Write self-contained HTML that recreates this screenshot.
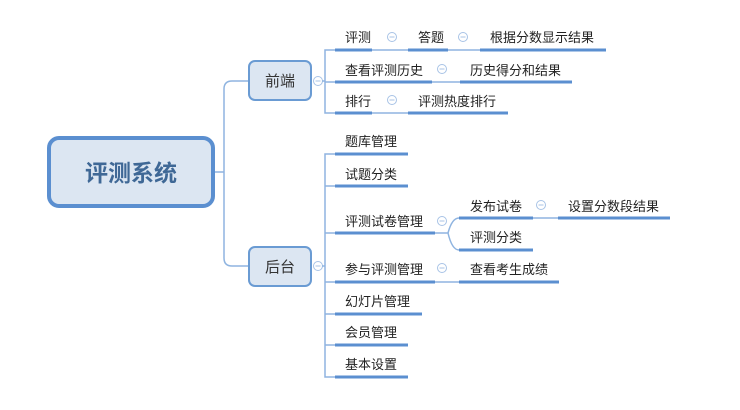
<!DOCTYPE html>
<html><head><meta charset="utf-8"><style>
body{margin:0;background:#fff}
svg text{font-family:"Liberation Sans","Noto Sans CJK SC",sans-serif;font-size:13px;fill:#222}
.u{stroke:#5b8fd0;stroke-width:3}
.l{stroke:#8fb4e0;stroke-width:1.5;fill:none}
.c{fill:#fff;stroke:#a8c3e6;stroke-width:1}
.m{stroke:#a8c3e6;stroke-width:1}
</style></head><body>
<svg width="740" height="405" viewBox="0 0 740 405" xmlns="http://www.w3.org/2000/svg">
<defs><g id="mn"><circle class="c" cx="0" cy="0" r="4.5"/><line class="m" x1="-2.5" y1="0" x2="2.5" y2="0"/></g></defs>
<path class="l" d="M214 172 H224 M248 81 H232 Q224 81 224 89 V258 Q224 266 232 266 H248"/>
<rect x="49" y="138" width="164" height="68" rx="10" fill="#dce6f2" stroke="#5b8fd0" stroke-width="4"/>
<text x="131" y="181" text-anchor="middle" style="font-size:23px;font-weight:bold;fill:#3f6896">评测系统</text>
<rect x="249" y="61" width="62" height="39" rx="6" fill="#dce6f2" stroke="#6a9bd3" stroke-width="2"/>
<text x="280" y="86" text-anchor="middle" style="font-size:15px;fill:#333">前端</text>
<rect x="249" y="247" width="62" height="39" rx="6" fill="#dce6f2" stroke="#6a9bd3" stroke-width="2"/>
<text x="280" y="272" text-anchor="middle" style="font-size:15px;fill:#333">后台</text>
<use href="#mn" x="318" y="81"/><use href="#mn" x="318" y="266"/>
<path class="l" d="M322 81 H325 M335 50 H325 V113 H335 M325 82 H335"/>
<line class="u" x1="335" y1="50" x2="372" y2="50"/>
<line class="u" x1="335" y1="82" x2="432" y2="82"/>
<line class="u" x1="335" y1="113" x2="372" y2="113"/>
<text x="345" y="42">评测</text><text x="345" y="75">查看评测历史</text><text x="345" y="106">排行</text>
<path class="l" d="M372 50 H408 M448 50 H480 M432 82 H460 M372 113 H408"/>
<line class="u" x1="408" y1="50" x2="448" y2="50"/>
<line class="u" x1="480" y1="50" x2="606" y2="50"/>
<line class="u" x1="460" y1="82" x2="572" y2="82"/>
<line class="u" x1="408" y1="113" x2="508" y2="113"/>
<text x="418" y="42">答题</text><text x="490" y="42">根据分数显示结果</text>
<text x="470" y="75">历史得分和结果</text><text x="418" y="106">评测热度排行</text>
<use href="#mn" x="392" y="37"/><use href="#mn" x="463" y="37"/>
<use href="#mn" x="442" y="69"/><use href="#mn" x="392" y="100"/>
<path class="l" d="M322 266 H325 M335 154 H325 V377 H335 M325 186 H335 M325 233 H335 M325 282 H335 M325 314 H335 M325 345 H335"/>
<line class="u" x1="335" y1="154" x2="408" y2="154"/>
<line class="u" x1="335" y1="186" x2="408" y2="186"/>
<line class="u" x1="335" y1="233" x2="435" y2="233"/>
<line class="u" x1="335" y1="282" x2="435" y2="282"/>
<line class="u" x1="335" y1="314" x2="422" y2="314"/>
<line class="u" x1="335" y1="345" x2="408" y2="345"/>
<line class="u" x1="335" y1="377" x2="408" y2="377"/>
<text x="345" y="146">题库管理</text><text x="345" y="179">试题分类</text>
<text x="345" y="226">评测试卷管理</text><text x="345" y="274">参与评测管理</text>
<text x="345" y="306">幻灯片管理</text><text x="345" y="337">会员管理</text><text x="345" y="369">基本设置</text>
<use href="#mn" x="442" y="221"/><use href="#mn" x="442" y="268"/>
<path class="l" d="M435 233 H448 Q452 218 459 218 M448 233 Q452 250 459 250 M435 282 H459 M533 218 H558"/>
<line class="u" x1="459" y1="218" x2="533" y2="218"/>
<line class="u" x1="459" y1="250" x2="533" y2="250"/>
<line class="u" x1="558" y1="218" x2="670" y2="218"/>
<line class="u" x1="459" y1="282" x2="559" y2="282"/>
<text x="470" y="211">发布试卷</text><text x="568" y="211">设置分数段结果</text>
<text x="470" y="242">评测分类</text><text x="470" y="274">查看考生成绩</text>
<use href="#mn" x="541" y="205"/>
</svg>
</body></html>
